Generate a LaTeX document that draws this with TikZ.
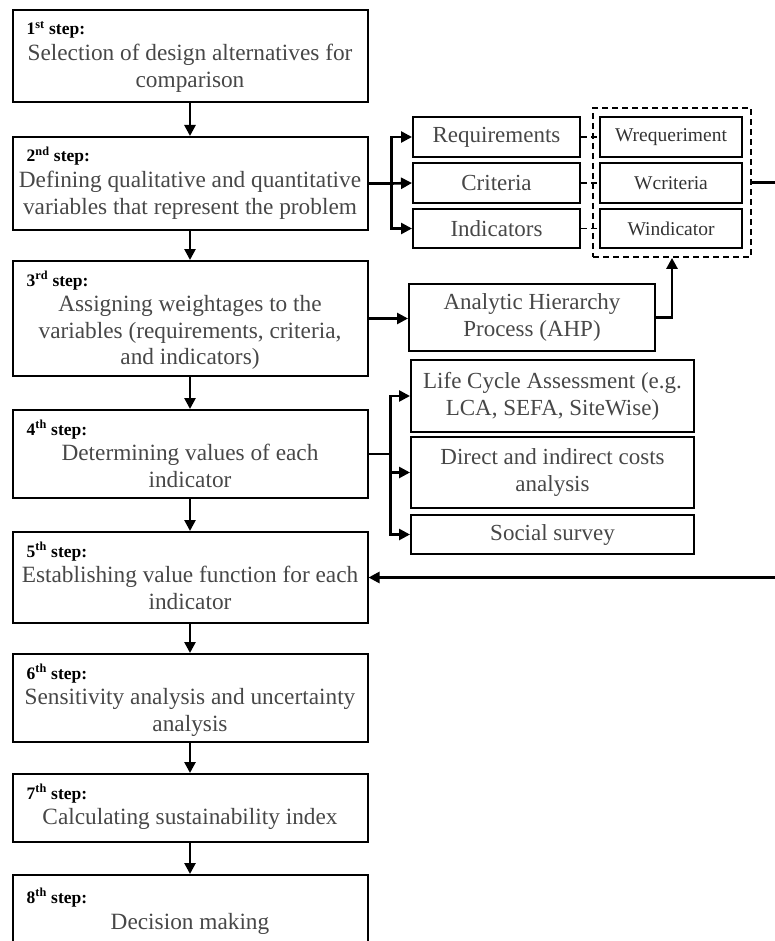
\documentclass[tikz,border=0pt]{standalone}
\usepackage{fontspec}
\setmainfont{Liberation Serif}
\usetikzlibrary{arrows.meta}
\begin{document}
\begin{tikzpicture}[x=1pt,y=-1pt,
  box/.style={draw=black,line width=2pt,rectangle,inner sep=0pt},
  stepbox/.style={box,minimum width=355pt},
  lab/.style={anchor=base west,inner sep=0pt,font=\fontsize{17.5}{19}\selectfont\bfseries,text=black},
  txt/.style={anchor=north,inner sep=0pt,align=center,font=\fontsize{23.3}{26.5}\selectfont,text=black!72},
  sbox/.style={box,align=center,font=\fontsize{23}{27}\selectfont,text=black!72},
  wbox/.style={box,minimum width=142pt,minimum height=40pt,font=\fontsize{19.5}{21}\selectfont,text=black!80},
  conn/.style={line width=2.6pt,-{Triangle[length=11pt,width=11pt]}},
  plain/.style={line width=2.6pt},
  dsh/.style={line width=1.8pt,dash pattern=on 6pt off 4pt}
]
\useasboundingbox (0,0) rectangle (775,941);
\clip (0,0) rectangle (775,941);

% step boxes
\node[stepbox,minimum height=92pt] (s1) at (190,56) {};
\node[lab] at ([shift={(15,26)}]s1.north west) {1\textsuperscript{st} step:};
\node[txt] at ([shift={(0,33)}]s1.north) {\strut Selection of design alternatives for\\comparison};

\node[stepbox,minimum height=93pt] (s2) at (190,183.5) {};
\node[lab] at ([shift={(15,26)}]s2.north west) {2\textsuperscript{nd} step:};
\node[txt] at ([shift={(0,33)}]s2.north) {\strut Defining qualitative and quantitative\\variables that represent the problem};

\node[stepbox,minimum height=115pt] (s3) at (190,318.5) {};
\node[lab] at ([shift={(15,26)}]s3.north west) {3\textsuperscript{rd} step:};
\node[txt] at ([shift={(0,33)}]s3.north) {\strut Assigning weightages to the\\variables (requirements, criteria,\\and indicators)};

\node[stepbox,minimum height=88pt] (s4) at (190,454) {};
\node[lab] at ([shift={(15,26)}]s4.north west) {4\textsuperscript{th} step:};
\node[txt] at ([shift={(0,33)}]s4.north) {\strut Determining values of each\\indicator};

\node[stepbox,minimum height=91pt] (s5) at (190,577.5) {};
\node[lab] at ([shift={(15,26)}]s5.north west) {5\textsuperscript{th} step:};
\node[txt] at ([shift={(0,33)}]s5.north) {\strut Establishing value function for each\\indicator};

\node[stepbox,minimum height=88pt] (s6) at (190,698) {};
\node[lab] at ([shift={(15,26)}]s6.north west) {6\textsuperscript{th} step:};
\node[txt] at ([shift={(0,33)}]s6.north) {\strut Sensitivity analysis and uncertainty\\analysis};

\node[stepbox,minimum height=68pt] (s7) at (190,808) {};
\node[lab] at ([shift={(15,26)}]s7.north west) {7\textsuperscript{th} step:};
\node[txt] at ([shift={(0,33)}]s7.north) {\strut Calculating sustainability index};

\node[stepbox,minimum height=90pt] (s8) at (190,920) {};
\node[lab] at ([shift={(15,29)}]s8.north west) {8\textsuperscript{th} step:};
\node[txt] at ([shift={(0,37)}]s8.north) {\strut Decision making};

% vertical arrows
\draw[conn] (s1.south) -- (s2.north);
\draw[conn] (s2.south) -- (s3.north);
\draw[conn] (s3.south) -- (s4.north);
\draw[conn] (s4.south) -- (s5.north);
\draw[conn] (s5.south) -- (s6.north);
\draw[conn] (s6.south) -- (s7.north);
\draw[conn] (s7.south) -- (s8.north);

% variables
\node[sbox,minimum width=167pt,minimum height=40pt] (req) at (496.5,137) {Requirements};
\node[sbox,minimum width=167pt,minimum height=40pt] (cri) at (496.5,183) {Criteria};
\node[sbox,minimum width=167pt,minimum height=39pt] (ind) at (496.5,228.5) {Indicators};

\node[draw=black,dsh,rectangle,minimum width=158pt,minimum height=149pt,inner sep=0pt] (wgrp) at (672,182.5) {};
\node[wbox] (wreq) at (671,137) {Wrequeriment};
\node[wbox] (wcri) at (671,183) {Wcriteria};
\node[wbox,minimum height=39pt] (wind) at (671,228.5) {Windicator};

\draw[dsh] (req.east) -- (wreq.west);
\draw[dsh] (cri.east) -- (wcri.west);
\draw[dsh] (ind.east) -- (wind.west);

\path (s2.east) ++(23,0) coordinate (bj2);
\draw[plain] (s2.east) -- (bj2);
\draw[conn] (bj2) |- (req.west);
\draw[conn] (bj2) -- (cri.west);
\draw[conn] (bj2) |- (ind.west);

% AHP
\node[sbox,minimum width=246pt,minimum height=67pt] (ahp) at (532,317.5) {Analytic Hierarchy\\Process (AHP)};
\draw[conn] (s3.east) -- (s3.east -| ahp.west);
\draw[conn] (ahp.east) -| (wgrp.south);

% determining values
\node[sbox,minimum width=283pt,minimum height=72pt] (lca) at (552.5,396) {Life Cycle Assessment (e.g.\\LCA, SEFA, SiteWise)};
\node[sbox,minimum width=283pt,minimum height=71pt] (dir) at (552.5,472.5) {Direct and indirect costs\\analysis};
\node[sbox,minimum width=283pt,minimum height=39pt] (soc) at (552.5,534.5) {Social survey};

\path (s4.east) ++(22,0) coordinate (bj4);
\draw[plain] (s4.east) -- (bj4);
\draw[conn] (bj4) |- (lca.west);
\draw[conn] (bj4) |- (dir.west);
\draw[conn] (bj4) |- (soc.west);

% feedback from weights to step 5
\draw[conn] (wgrp.east) -- ++(40,0) |- (s5.east);
\end{tikzpicture}
\end{document}
